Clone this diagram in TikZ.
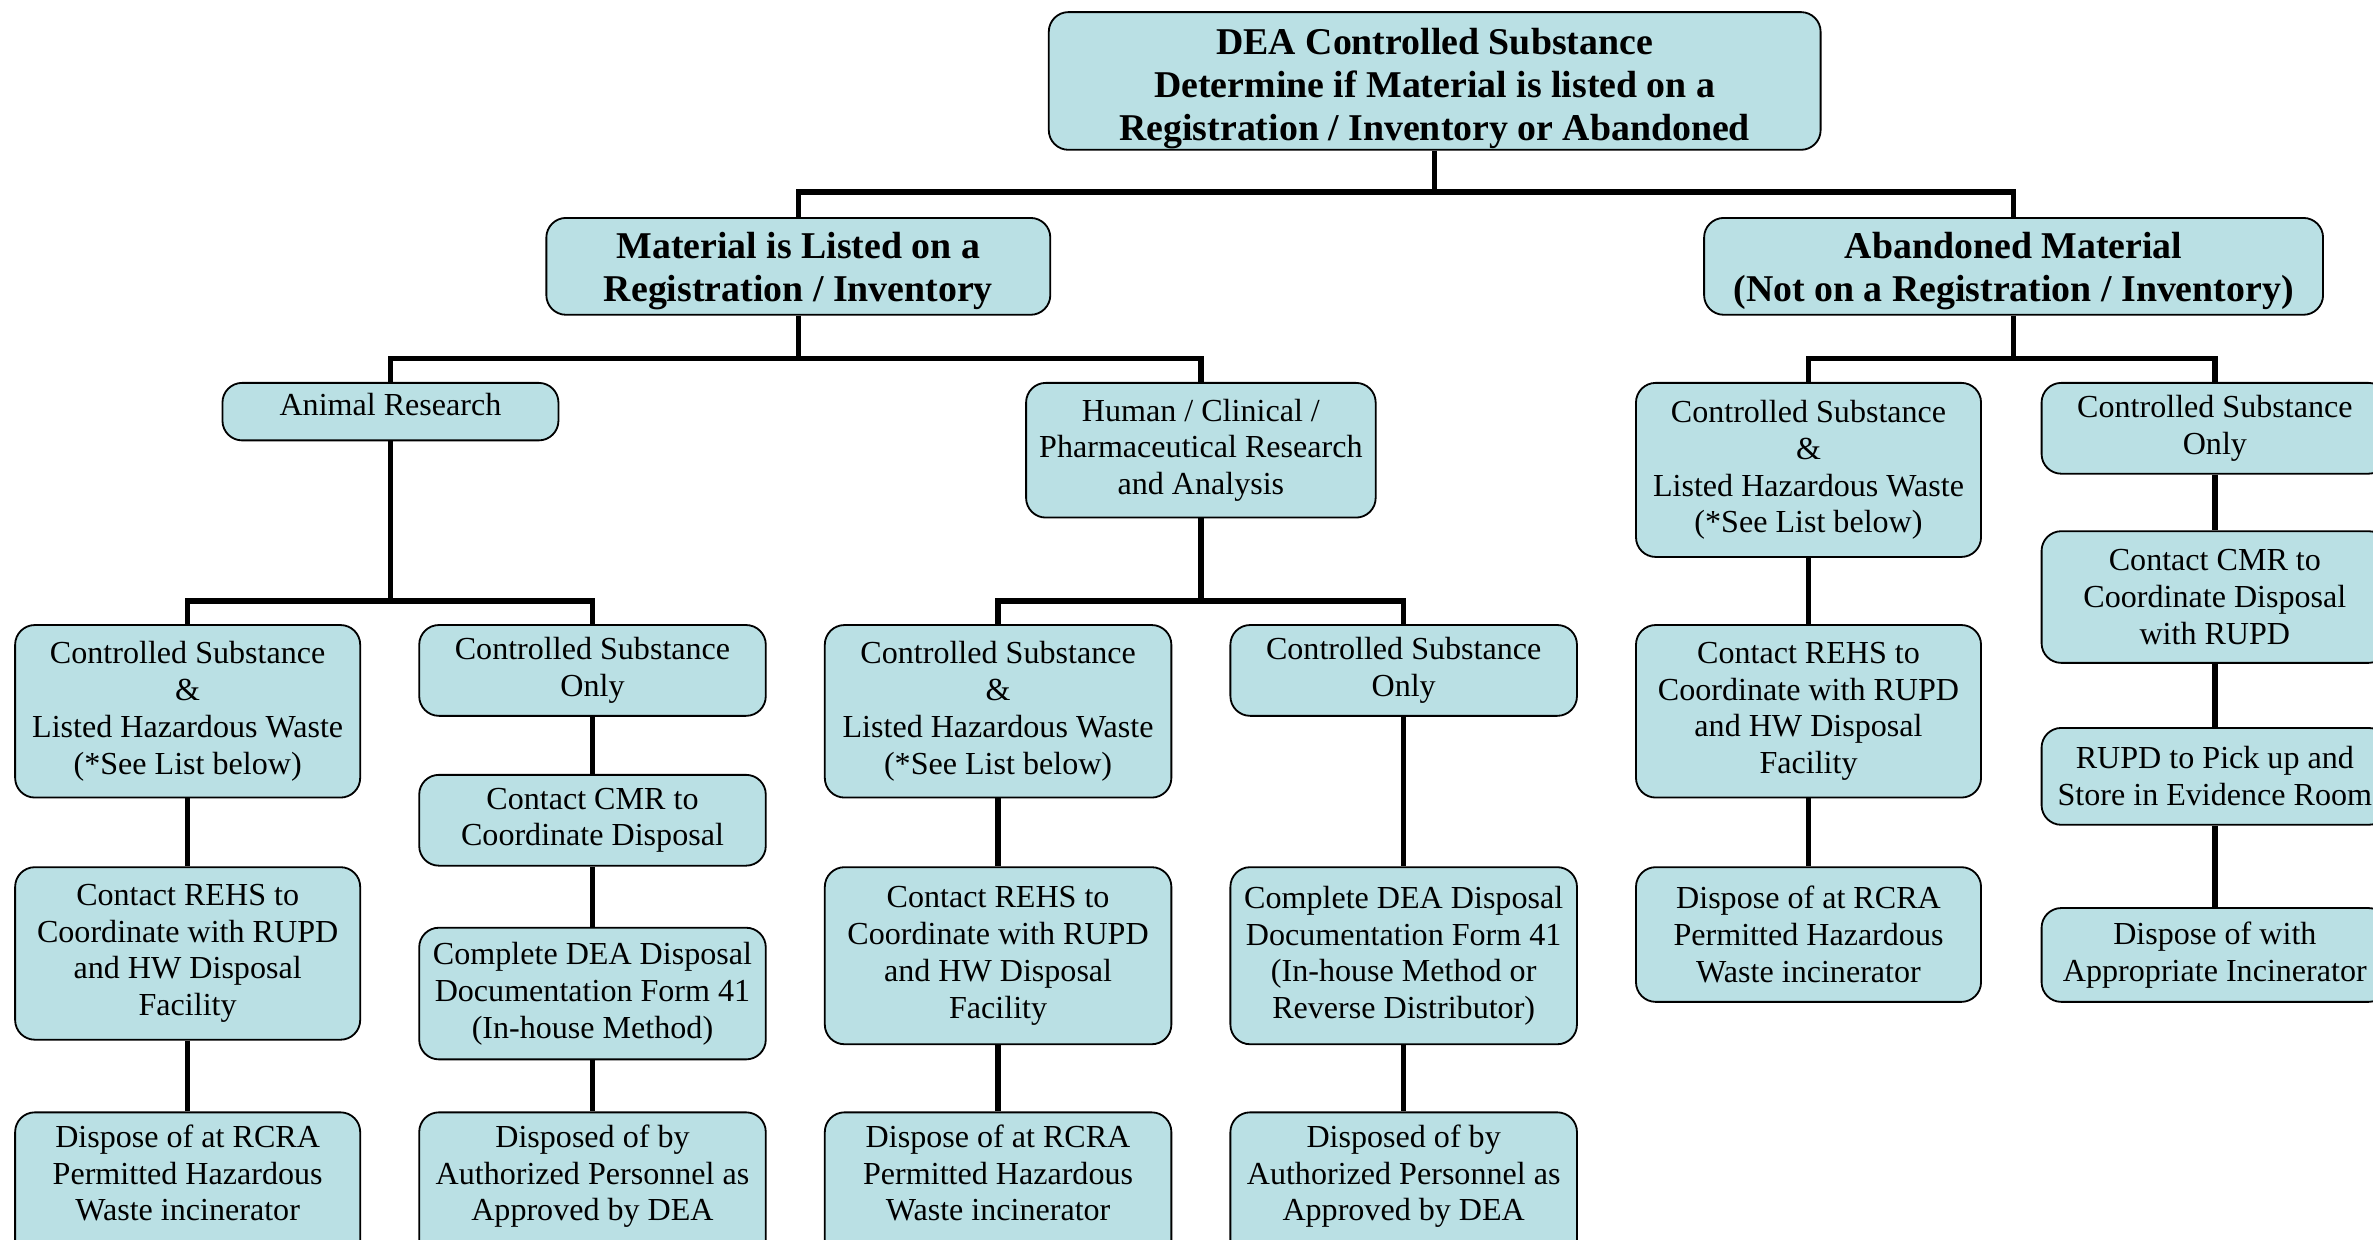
\documentclass[tikz,border=0pt]{standalone}
\usepackage{fontspec}
\setmainfont{Liberation Serif}
\definecolor{boxfill}{RGB}{186,224,228}
\newcommand\boxtext[3]{\raisebox{0pt}[\dimexpr\height+#1\relax][\dimexpr\depth+#2\relax]{\begin{tabular}{@{}c@{}}#3\end{tabular}}}
\tikzset{
  box/.style={draw=black, line width=1.2pt, fill=boxfill, rounded corners=13pt,
    align=center, inner sep=0pt, font=\fontsize{21.2}{24.3}\selectfont},
  head/.style={box, font=\fontsize{25}{28.5}\selectfont\bfseries},
  link/.style={line width=3.6pt, draw=black}
}
\begin{document}
\begin{tikzpicture}[x=1pt,y=-1pt]
\useasboundingbox (0,0) rectangle (1568,819);
\clip (0,0) rectangle (1568,819);
% level 0-1
\node[head, minimum width=510pt, minimum height=91pt] (top) at (948,53.5)
  {\boxtext{5pt}{-5pt}{DEA Controlled Substance\\Determine if Material is listed on a\\Registration / Inventory or Abandoned}};
\node[head, minimum width=333pt, minimum height=64pt] (mat) at (527.5,176)
  {\boxtext{7pt}{0pt}{Material is Listed on a\\Registration / Inventory}};
\node[head, minimum width=409pt, minimum height=64pt] (aban) at (1330.5,176)
  {\boxtext{7pt}{0pt}{Abandoned Material\\(Not on a Registration / Inventory)}};
% level 2
\node[box, minimum width=222pt, minimum height=38pt] (anim) at (258,272)
  {\boxtext{0pt}{4pt}{Animal Research}};
\node[box, minimum width=231pt, minimum height=89pt] (human) at (793.5,297.5)
  {Human / Clinical /\\Pharmaceutical Research\\and Analysis};
% animal branch
\node[box, minimum width=228pt, minimum height=114pt] (aCL) at (124,470)
  {Controlled Substance\\\&\\Listed Hazardous Waste\\(*See List below)};
\node[box, minimum width=229pt, minimum height=60pt] (aCO) at (391.5,443)
  {Controlled Substance\\Only};
\node[box, minimum width=228pt, minimum height=114pt] (aREHS) at (124,630)
  {Contact REHS to\\Coordinate with RUPD\\and HW Disposal\\Facility};
\node[box, minimum width=229pt, minimum height=60pt] (aCMR) at (391.5,542)
  {Contact CMR to\\Coordinate Disposal};
\node[box, minimum width=229pt, minimum height=87pt] (aDEA) at (391.5,656.5)
  {Complete DEA Disposal\\Documentation Form 41\\(In-house Method)};
\node[box, minimum width=228pt, minimum height=104pt] (aRCRA) at (124,787)
  {\boxtext{0pt}{19pt}{Dispose of at RCRA\\Permitted Hazardous\\Waste incinerator}};
\node[box, minimum width=229pt, minimum height=104pt] (aDisp) at (391.5,787)
  {\boxtext{0pt}{19pt}{Disposed of by\\Authorized Personnel as\\Approved by DEA}};
% human branch
\node[box, minimum width=229pt, minimum height=114pt] (hCL) at (659.5,470)
  {Controlled Substance\\\&\\Listed Hazardous Waste\\(*See List below)};
\node[box, minimum width=229pt, minimum height=60pt] (hCO) at (927.5,443)
  {Controlled Substance\\Only};
\node[box, minimum width=229pt, minimum height=117pt] (hREHS) at (659.5,631.5)
  {Contact REHS to\\Coordinate with RUPD\\and HW Disposal\\Facility};
\node[box, minimum width=229pt, minimum height=117pt] (hDEA) at (927.5,631.5)
  {Complete DEA Disposal\\Documentation Form 41\\(In-house Method or\\Reverse Distributor)};
\node[box, minimum width=229pt, minimum height=104pt] (hRCRA) at (659.5,787)
  {\boxtext{0pt}{19pt}{Dispose of at RCRA\\Permitted Hazardous\\Waste incinerator}};
\node[box, minimum width=229pt, minimum height=104pt] (hDisp) at (927.5,787)
  {\boxtext{0pt}{19pt}{Disposed of by\\Authorized Personnel as\\Approved by DEA}};
% abandoned branch
\node[box, minimum width=228pt, minimum height=115pt] (bCL) at (1195,310.5)
  {Controlled Substance\\\&\\Listed Hazardous Waste\\(*See List below)};
\node[box, minimum width=229pt, minimum height=60pt] (bCO) at (1463.5,283)
  {Controlled Substance\\Only};
\node[box, minimum width=228pt, minimum height=114pt] (bREHS) at (1195,470)
  {Contact REHS to\\Coordinate with RUPD\\and HW Disposal\\Facility};
\node[box, minimum width=228pt, minimum height=89pt] (bRCRA) at (1195,617.5)
  {Dispose of at RCRA\\Permitted Hazardous\\Waste incinerator};
\node[box, minimum width=229pt, minimum height=87pt] (bCMR) at (1463.5,394.5)
  {Contact CMR to\\Coordinate Disposal\\with RUPD};
\node[box, minimum width=229pt, minimum height=64pt] (bRUPD) at (1463.5,513)
  {RUPD to Pick up and\\Store in Evidence Room};
\node[box, minimum width=229pt, minimum height=62pt] (bDisp) at (1463.5,631)
  {Dispose of with\\Appropriate Incinerator};
% bus coordinates
\coordinate (b1) at (948,127);
\coordinate (b2) at (527.5,237);
\coordinate (b3) at (1330.5,237);
\coordinate (b4) at (258,397);
\coordinate (b5) at (793.5,397);
% connectors
\draw[link] (top.south) -- (b1);
\draw[link] (mat.north) |- (b1) -| (aban.north);
\draw[link] (mat.south) -- (b2);
\draw[link] (anim.north) |- (b2) -| (human.north);
\draw[link] (aban.south) -- (b3);
\draw[link] (bCL.north) |- (b3) -| (bCO.north);
\draw[link] (anim.south) -- (b4);
\draw[link] (aCL.north) |- (b4) -| (aCO.north);
\draw[link] (human.south) -- (b5);
\draw[link] (hCL.north) |- (b5) -| (hCO.north);
\draw[link] (aCL) -- (aREHS) (aREHS) -- (aRCRA);
\draw[link] (aCO) -- (aCMR) (aCMR) -- (aDEA) (aDEA) -- (aDisp);
\draw[link] (hCL) -- (hREHS) (hREHS) -- (hRCRA);
\draw[link] (hCO) -- (hDEA) (hDEA) -- (hDisp);
\draw[link] (bCL) -- (bREHS) (bREHS) -- (bRCRA);
\draw[link] (bCO) -- (bCMR) (bCMR) -- (bRUPD) (bRUPD) -- (bDisp);
\end{tikzpicture}
\end{document}
